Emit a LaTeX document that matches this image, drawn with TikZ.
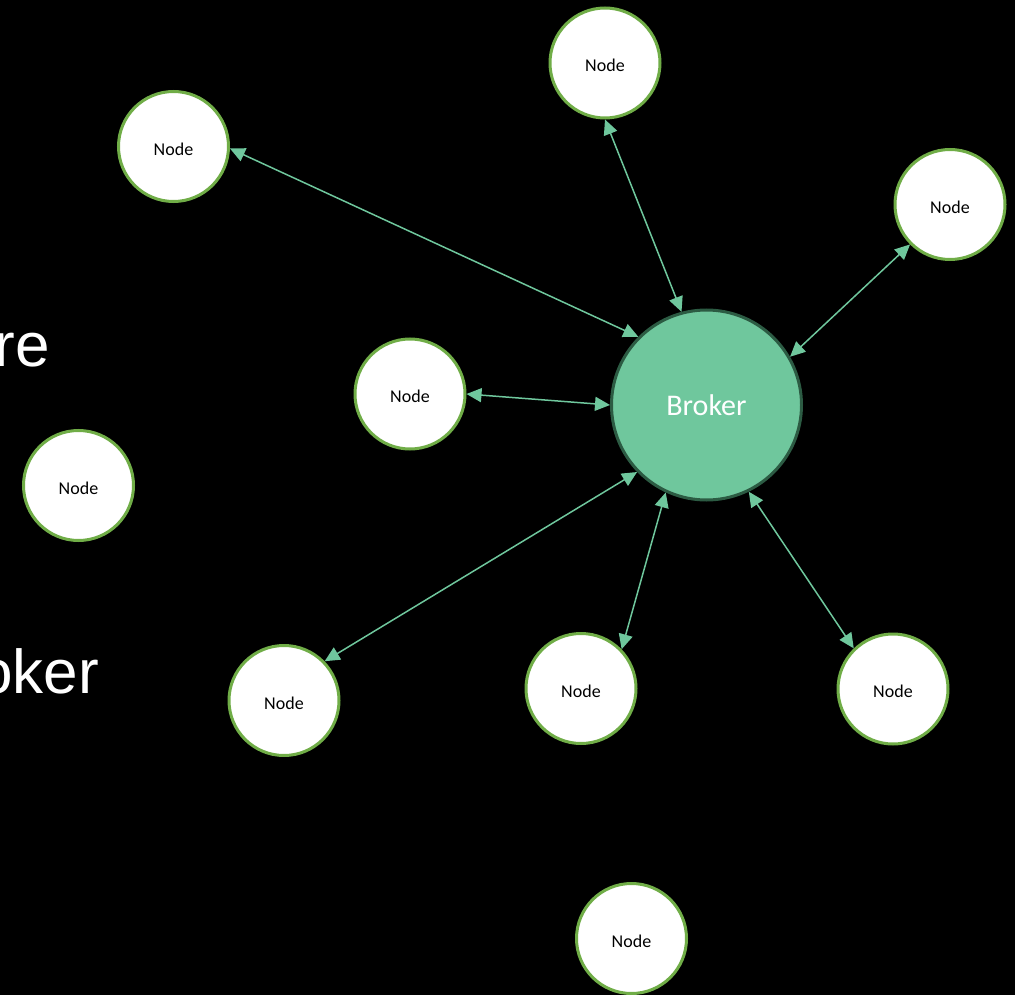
\documentclass[tikz,border=0pt]{standalone}
\usepackage{fontspec}
\setmainfont{Carlito}
\newfontfamily\bigsans{Liberation Sans}
\usetikzlibrary{arrows.meta}
\definecolor{nodegreen}{HTML}{70AD47}
\definecolor{brokerfill}{HTML}{6FC79D}
\definecolor{brokerline}{HTML}{2C5B43}
\definecolor{linkgreen}{HTML}{6FC79D}
\tikzset{
  peer/.style={circle, draw=nodegreen, line width=3pt, fill=white, minimum size=110pt, inner sep=0pt, text=black, font=\fontsize{18}{18}\selectfont},
  brokernode/.style={circle, draw=brokerline, line width=3pt, fill=brokerfill, minimum size=190pt, inner sep=0pt, text=white, font=\fontsize{30}{30}\selectfont},
  link/.style={draw=linkgreen, line width=1.5pt, {Triangle[length=15pt,width=14pt]}-{Triangle[length=15pt,width=14pt]}},
  slidetext/.style={text=white, inner sep=0pt, font=\bigsans\fontsize{62}{62}\selectfont}
}
\newcommand{\peertext}{\raisebox{-2.5pt}[\height][\depth]{Node}}
\begin{document}
\begin{tikzpicture}[x=1pt,y=-1pt]
\fill[black] (0,0) rectangle (1015,995);
\useasboundingbox (0,0) rectangle (1015,995);
% partial slide text (cut by the left edge, as in the reference)
\node[slidetext, anchor=base east] (t1) at (50,366) {re};
\node[slidetext, anchor=base east] (t2) at (99,693) {oker};
% nodes
\node[brokernode] (b) at (706.5,405) {Broker};
\node[peer] (n1) at (605,63) {\peertext};
\node[peer] (n2) at (173.5,146.5) {\peertext};
\node[peer] (n3) at (950,204.5) {\peertext};
\node[peer] (n4) at (410,394) {\peertext};
\node[peer] (n5) at (78.5,485.5) {\peertext};
\node[peer] (n6) at (284,700.5) {\peertext};
\node[peer] (n7) at (581,688.5) {\peertext};
\node[peer] (n8) at (893,689) {\peertext};
\node[peer] (n9) at (631.5,938.5) {\peertext};
% links
\draw[link] (n2.-2) -- (b.135.5);
\draw[link] (n1.270) -- (b.105.3);
\draw[link] (n3.225.7) -- (b.30);
\draw[link] (n4.0) -- (b.180);
\draw[link] (n6.44.6) -- (b.224.4);
\draw[link] (n7.44.7) -- (b.245.4);
\draw[link] (n8.134) -- (b.296.6);
\end{tikzpicture}
\end{document}
